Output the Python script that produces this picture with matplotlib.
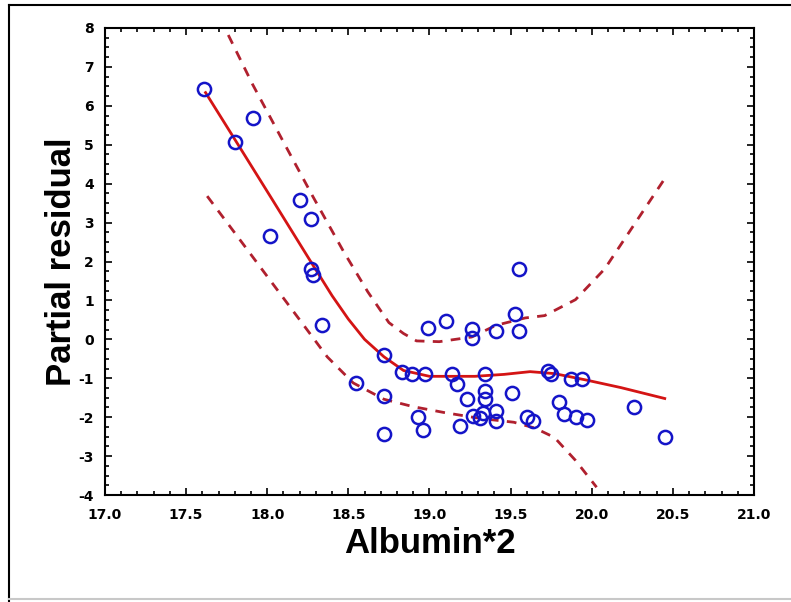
import matplotlib
matplotlib.use('Agg')
import matplotlib.pyplot as plt
from matplotlib.lines import Line2D
from matplotlib.ticker import MultipleLocator, FormatStrFormatter

# havainnot (partial residuals)
alb_x = [17.61, 17.80, 17.91, 18.02, 18.20, 18.27, 18.27, 18.28, 18.34, 18.55,
         18.72, 18.72, 18.72, 18.83, 18.89, 18.97, 18.93, 18.96, 18.99, 19.10,
         19.14, 19.17, 19.19, 19.23, 19.26, 19.26, 19.27, 19.31, 19.33, 19.34,
         19.34, 19.34, 19.41, 19.41, 19.41, 19.51, 19.53, 19.55, 19.55, 19.60,
         19.64, 19.73, 19.75, 19.80, 19.83, 19.87, 19.90, 19.94, 19.97, 20.26,
         20.45]
resid_y = [6.42, 5.08, 5.68, 2.65, 3.57, 3.09, 1.81, 1.66, 0.38, -1.11,
           -0.40, -1.46, -2.42, -0.85, -0.90, -0.90, -2.00, -2.34, 0.29, 0.48,
           -0.90, -1.14, -2.23, -1.54, 0.26, 0.04, -1.98, -2.03, -1.88, -0.90,
           -1.34, -1.54, 0.22, -1.83, -2.10, -1.39, 0.65, 1.81, 0.22, -2.00,
           -2.10, -0.82, -0.90, -1.61, -1.93, -1.01, -2.00, -1.01, -2.08, -1.75,
           -2.52]

# sovitettu käyrä
fit_x = [17.62, 17.80, 18.03, 18.25, 18.40, 18.50, 18.60, 18.72, 18.84, 19.00,
         19.28, 19.46, 19.62, 19.77, 19.96, 20.18, 20.45]
fit_y = [6.34, 5.14, 3.60, 2.12, 1.12, 0.52, 0.00, -0.45, -0.80, -0.95,
         -0.95, -0.90, -0.83, -0.88, -1.04, -1.24, -1.52]

# luottamusvälit
ylä_x = [17.76, 17.91, 18.09, 18.28, 18.47, 18.62, 18.75, 18.84, 18.92, 19.06,
         19.26, 19.41, 19.59, 19.71, 19.90, 20.08, 20.30, 20.45]
ylä_y = [7.82, 6.55, 5.15, 3.68, 2.26, 1.22, 0.43, 0.15, -0.04, -0.06,
         0.06, 0.36, 0.55, 0.61, 1.02, 1.81, 3.19, 4.13]
ala_x = [17.63, 17.81, 18.03, 18.22, 18.37, 18.53, 18.72, 18.90, 19.09, 19.31,
         19.52, 19.65, 19.77, 19.90, 20.03]
ala_y = [3.68, 2.68, 1.45, 0.39, -0.45, -1.12, -1.54, -1.73, -1.88, -2.03,
         -2.13, -2.28, -2.52, -3.11, -3.80]

plt.rcParams['axes.unicode_minus'] = False
fig = plt.figure(figsize=(7.91, 6.02), dpi=100)
ax = fig.add_axes([0.1327, 0.1777, 0.8205, 0.7758])

katko = (0, (3.5, 3))
ax.plot(ylä_x, ylä_y, color='#b0202e', lw=2.0, linestyle=katko)
ax.plot(ala_x, ala_y, color='#b0202e', lw=2.0, linestyle=katko)
ax.plot(fit_x, fit_y, color='#d41414', lw=2.0)
ax.plot(alb_x, resid_y, 'o', ms=9.5, mfc='none', mec='#1414c8', mew=1.8)

ax.set_xlim(17.0, 21.0)
ax.set_ylim(-4, 8)
ax.xaxis.set_major_locator(MultipleLocator(0.5))
ax.xaxis.set_minor_locator(MultipleLocator(0.1))
ax.yaxis.set_major_locator(MultipleLocator(1))
ax.yaxis.set_minor_locator(MultipleLocator(0.25))
ax.xaxis.set_major_formatter(FormatStrFormatter('%.1f'))
ax.tick_params(which='both', direction='in', top=True, right=True, width=1.2)
ax.tick_params(which='major', length=5, labelsize=10)
ax.tick_params(which='minor', length=3)
ax.tick_params(axis='x', which='major', pad=9)
ax.tick_params(axis='y', which='major', pad=8)
for lab in ax.get_xticklabels() + ax.get_yticklabels():
    lab.set_fontweight('bold')
for s in ax.spines.values():
    s.set_linewidth(1.5)

otsikko = ['Liberation Sans', 'DejaVu Sans']
ax.set_xlabel('Albumin*2', fontsize=25, fontweight='bold', family=otsikko, labelpad=4)
ax.set_ylabel('Partial residual', fontsize=25, fontweight='bold', family=otsikko, labelpad=0)

# ikkunan reunaviivat
fig.add_artist(Line2D([9/791, 9/791], [0, 597/602], color='k', lw=1.5, transform=fig.transFigure))
fig.add_artist(Line2D([9/791, 1], [597/602, 597/602], color='k', lw=1.5, transform=fig.transFigure))
fig.add_artist(Line2D([9/791, 1], [3/602, 3/602], color='#c8c8c8', lw=1.5, transform=fig.transFigure))

fig.savefig('out.png', dpi=100)
